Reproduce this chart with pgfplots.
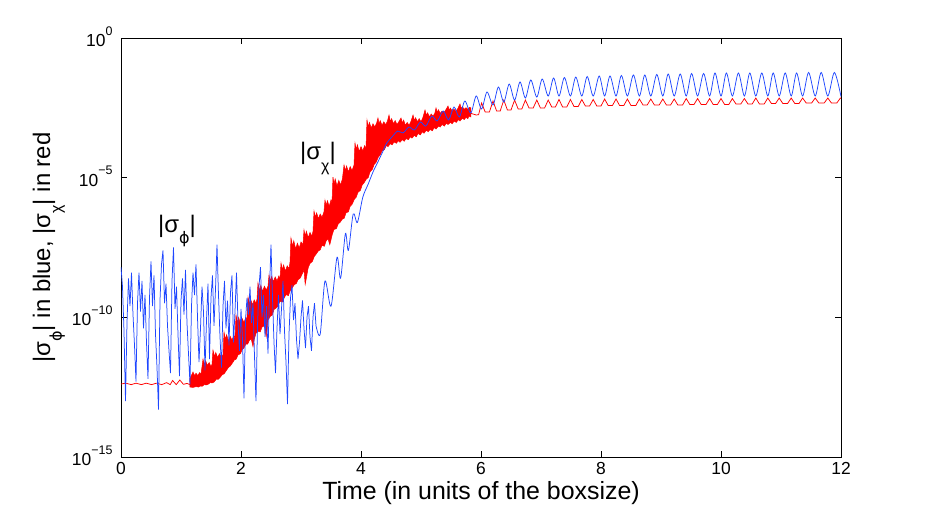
\documentclass[border=0pt]{standalone}
\usepackage{fontspec}
\setmainfont{Liberation Sans}
\newfontfamily\dvs{DejaVu Sans}
\usepackage{pgfplots}
\pgfplotsset{compat=1.18}
\definecolor{mblue}{rgb}{0.12,0.28,1}
\definecolor{mred}{rgb}{1,0,0}
\newcommand{\tp}[1]{10\raisebox{11.5bp}{\fontsize{12.5}{13}\selectfont #1}}
\newcommand{\sg}[1]{|σ\raisebox{-11.5bp}{\fontsize{16}{16}\selectfont #1}|}
\newcommand{\vphi}{{\dvs ϕ}}
\begin{document}
\begin{tikzpicture}
\useasboundingbox (-121bp,-57bp) rectangle (808bp,457bp);
\begin{axis}[
  scale only axis, width=720bp, height=419bp,
  xmin=0, xmax=12, ymin=1e-15, ymax=1, ymode=log,
  xtick={0,2,4,6,8,10,12},
  ytick={1e-15,1e-10,1e-5,1},
  yticklabels={\tp{−15},\tp{−10},\tp{−5},\tp{0}},
  xminorticks=false, yminorticks=false,
  tick align=inside,
  major tick length=6bp,
  every tick/.style={black, line width=0.6bp},
  axis line style={line width=0.9bp},
  /pgf/number format/assume math mode=true,
  xticklabel style={font=\fontsize{17.5}{18}\selectfont, yshift=-2bp},
  yticklabel style={font=\fontsize{17.5}{18}\selectfont, anchor=base east, yshift=-8.5bp, xshift=-5bp},
  xlabel={Time (in units of the boxsize)},
  xlabel style={font=\fontsize{25}{28}\selectfont, at={(axis description cs:0.5,-0.1014)}, anchor=base},
  ylabel={\sg{\vphi} in blue, \sg{χ} in red},
  ylabel style={font=\fontsize{24}{28}\selectfont, at={(axis description cs:-0.0986,0.5)}, anchor=base},
]
% red: flat part
\addplot[mred, line width=0.75bp] coordinates {
(0.00,4.1e-13) (0.08,4.4e-13) (0.17,3.9e-13) (0.25,4.4e-13) (0.34,3.9e-13) (0.42,4.4e-13)
(0.51,3.9e-13) (0.59,4.4e-13) (0.68,3.9e-13) (0.76,4.6e-13) (0.82,3.9e-13) (0.86,5.5e-13)
(0.92,3.9e-13) (0.98,5.7e-13) (1.04,4.0e-13) (1.10,4.3e-13) (1.15,3.9e-13)
};
% red: dense oscillation band (upper envelope, then lower envelope back)
\addplot[mred, fill=mred, line width=0.5bp] coordinates {
(1.15,6.7e-13) (1.18,9e-13) (1.20,1.1e-12) (1.23,8e-13) (1.25,1.0e-12) (1.28,8.2e-13) (1.31,1.05e-12) (1.333,9e-13) (1.367,3.2e-12)
(1.39,2.0e-12) (1.41,2.8e-12) (1.44,1.9e-12) (1.47,2.4e-12) (1.50,1.7e-12) (1.517,2.1e-12) (1.533,6.7e-12)
(1.56,4.0e-12) (1.58,5.5e-12) (1.61,3.6e-12) (1.64,5.0e-12) (1.67,3.8e-12) (1.70,4.6e-12) (1.717,2.97e-11)
(1.74,1.6e-11) (1.76,2.4e-11) (1.79,1.4e-11) (1.82,2.1e-11) (1.85,1.5e-11) (1.88,2.3e-11) (1.90,1.8e-11) (1.917,1.21e-10)
(1.94,6.5e-11) (1.96,1.0e-10) (1.99,6.0e-11) (2.02,9.0e-11) (2.05,6.5e-11) (2.08,1.0e-10) (2.10,8.0e-11) (2.117,5.3e-10)
(2.14,3.0e-10) (2.16,4.5e-10) (2.19,2.8e-10) (2.22,4.2e-10) (2.25,3.2e-10) (2.267,4.5e-10) (2.283,1.69e-9)
(2.31,9.0e-10) (2.33,1.4e-9) (2.36,8.5e-10) (2.39,1.3e-9) (2.42,9.5e-10) (2.45,1.3e-9) (2.467,3.27e-9)
(2.49,2.0e-9) (2.51,2.9e-9) (2.54,1.9e-9) (2.57,2.8e-9) (2.60,2.0e-9) (2.63,3.0e-9) (2.65,2.4e-9) (2.667,8.8e-9)
(2.69,5.0e-9) (2.71,7.5e-9) (2.74,4.5e-9) (2.77,7.0e-9) (2.80,5.5e-9) (2.817,9.5e-9) (2.833,6.9e-8)
(2.86,3.5e-8) (2.88,5.5e-8) (2.91,2.8e-8) (2.94,4.5e-8) (2.97,3.0e-8) (3.00,5.0e-8) (3.033,4.0e-8) (3.05,1.34e-7)
(3.07,8.0e-8) (3.09,1.2e-7) (3.12,7.0e-8) (3.15,1.1e-7) (3.18,8.0e-8) (3.20,1.2e-7) (3.217,6.4e-7)
(3.24,3.8e-7) (3.26,5.5e-7) (3.29,3.4e-7) (3.32,5.0e-7) (3.35,3.8e-7) (3.383,6.0e-7) (3.40,1.58e-6)
(3.42,1.0e-6) (3.44,1.5e-6) (3.47,9.5e-7) (3.50,1.6e-6) (3.517,1.3e-6) (3.533,1.05e-5)
(3.55,6.0e-6) (3.57,9.0e-6) (3.60,5.0e-6) (3.63,8.0e-6) (3.66,5.5e-6) (3.69,9.0e-6) (3.717,2.84e-5)
(3.74,1.8e-5) (3.76,2.6e-5) (3.79,1.6e-5) (3.82,2.5e-5) (3.85,1.8e-5) (3.883,2.8e-5) (3.90,1.74e-4)
(3.92,1.0e-4) (3.94,1.5e-4) (3.97,8.5e-5) (4.00,1.3e-4) (4.03,9.0e-5) (4.06,1.4e-4) (4.083,1.1e-4) (4.10,1.16e-3)
(4.12,6.5e-4) (4.14,9.5e-4) (4.17,6.0e-4) (4.20,8.5e-4) (4.23,6.5e-4) (4.26,9.0e-4) (4.283,1.37e-3)
(4.30,8.5e-4) (4.32,1.1e-3) (4.35,7.5e-4) (4.38,1.0e-3) (4.41,7.8e-4) (4.44,1.05e-3) (4.467,1.75e-3)
(4.49,1.0e-3) (4.51,1.3e-3) (4.54,8.5e-4) (4.57,1.1e-3) (4.60,8.0e-4) (4.63,1.0e-3) (4.667,1.37e-3)
(4.69,9.0e-4) (4.71,1.15e-3) (4.74,7.5e-4) (4.77,9.5e-4) (4.80,7.5e-4) (4.83,1.0e-3) (4.867,1.75e-3)
(4.89,1.1e-3) (4.91,1.4e-3) (4.94,1.0e-3) (4.97,1.3e-3) (5.00,1.0e-3) (5.03,1.4e-3) (5.067,2.64e-3)
(5.09,1.7e-3) (5.11,2.1e-3) (5.14,1.5e-3) (5.17,1.9e-3) (5.20,1.6e-3) (5.23,2.0e-3) (5.25,3.12e-3)
(5.27,2.2e-3) (5.29,2.7e-3) (5.32,2.0e-3) (5.35,2.4e-3) (5.38,2.1e-3) (5.41,2.6e-3) (5.45,3.67e-3)
(5.47,2.6e-3) (5.49,3.1e-3) (5.52,2.4e-3) (5.55,2.8e-3) (5.58,2.4e-3) (5.61,2.9e-3) (5.65,4.34e-3)
(5.67,3.0e-3) (5.69,3.5e-3) (5.72,2.8e-3) (5.75,3.2e-3) (5.78,2.8e-3) (5.81,3.3e-3) (5.833,3.12e-3)
(5.833,1.48e-3) (5.80,1.6e-3) (5.78,1.3e-3) (5.75,1.45e-3) (5.72,1.2e-3) (5.69,1.35e-3) (5.65,1.07e-3) (5.62,1.2e-3)
(5.59,9.5e-4) (5.55,1.05e-3) (5.52,8.5e-4) (5.49,9.5e-4) (5.45,8.0e-4) (5.42,9.0e-4) (5.39,7.0e-4) (5.35,8.0e-4)
(5.32,6.5e-4) (5.29,7.0e-4) (5.25,5.5e-4) (5.22,6.2e-4) (5.19,4.8e-4) (5.15,5.3e-4) (5.12,4.4e-4) (5.09,5.0e-4)
(5.05,3.9e-4) (5.02,4.4e-4) (4.99,3.4e-4) (4.95,3.8e-4) (4.92,2.9e-4) (4.89,3.3e-4) (4.85,2.6e-4) (4.82,2.9e-4)
(4.79,2.3e-4) (4.75,2.5e-4) (4.72,2.0e-4) (4.69,2.3e-4) (4.65,1.85e-4) (4.62,2.1e-4) (4.59,1.7e-4) (4.55,1.9e-4)
(4.52,1.5e-4) (4.49,1.65e-4) (4.45,1.3e-4) (4.42,1.4e-4) (4.39,1.0e-4) (4.35,9.0e-5) (4.32,6.5e-5) (4.29,5.5e-5)
(4.25,3.5e-5) (4.22,3.0e-5) (4.19,2.0e-5) (4.15,1.6e-5) (4.12,1.0e-5) (4.09,9.0e-6) (4.05,6.5e-6) (4.02,5.5e-6)
(3.99,3.5e-6) (3.95,3.0e-6) (3.92,2.0e-6) (3.89,1.7e-6) (3.85,1.1e-6) (3.82,9.5e-7) (3.79,6.0e-7) (3.75,5.5e-7)
(3.72,3.5e-7) (3.69,3.3e-7) (3.65,2.5e-7) (3.62,2.2e-7) (3.59,1.5e-7) (3.55,1.4e-7) (3.52,9.0e-8) (3.48,4.0e-8)
(3.45,6.5e-8) (3.42,5.5e-8) (3.39,3.5e-8) (3.35,3.8e-8) (3.32,2.6e-8) (3.29,2.4e-8) (3.25,1.8e-8) (3.22,1.5e-8)
(3.19,1.0e-8) (3.15,8.5e-9) (3.12,6.0e-9) (3.07,1.5e-9) (3.05,5.0e-9) (3.02,3.6e-9) (2.99,2.6e-9) (2.95,2.2e-9)
(2.92,1.6e-9) (2.89,1.5e-9) (2.85,1.1e-9) (2.82,9.0e-10) (2.79,6.0e-10) (2.75,6.5e-10) (2.72,5.0e-10) (2.69,3.5e-10)
(2.65,3.8e-10) (2.62,2.6e-10) (2.59,2.2e-10) (2.55,1.9e-10) (2.52,1.2e-10) (2.49,1.1e-10) (2.45,8.0e-11) (2.42,2.0e-11)
(2.39,5.0e-11) (2.35,4.5e-11) (2.32,3.0e-11) (2.29,3.2e-11) (2.25,2.7e-11) (2.22,1.6e-11) (2.20,9.0e-12) (2.17,1.7e-11)
(2.14,1.5e-11) (2.11,1.1e-11) (2.08,1.1e-11) (2.05,8.0e-12) (2.02,7.0e-12) (1.99,5.0e-12) (1.95,4.5e-12) (1.92,3.2e-12)
(1.89,3.0e-12) (1.85,2.2e-12) (1.82,1.8e-12) (1.79,1.6e-12) (1.75,1.2e-12) (1.72,9.5e-13) (1.69,9.0e-13) (1.65,7.0e-13)
(1.62,6.0e-13) (1.59,6.2e-13) (1.55,4.8e-13) (1.52,4.5e-13) (1.49,4.6e-13) (1.45,4.0e-13) (1.42,3.8e-13) (1.39,3.9e-13)
(1.35,3.4e-13) (1.32,3.5e-13) (1.29,3.2e-13) (1.25,3.3e-13) (1.20,3.1e-13) (1.15,3.2e-13)
} -- cycle;
% red: late oscillation
\addplot[mred, line width=0.75bp] coordinates {
(5.833,2.0e-3) (5.92,1.75e-3) (5.96,1.8e-3) (6.01,4.71e-3) (6.07,2.24e-3) (6.14,2.24e-3)
(6.20,5.55e-3) (6.26,2.44e-3) (6.32,2.44e-3) (6.38,6.0e-3) (6.44,2.64e-3) (6.50,2.64e-3)
(6.56,6.0e-3) (6.62,2.87e-3) (6.68,2.87e-3) (6.74,6.0e-3) (6.80,3.12e-3) (6.87,3.12e-3)
(6.93,6.0e-3) (6.99,3.12e-3) (7.06,3.12e-3) (7.12,6.0e-3) (7.18,3.38e-3) (7.24,3.38e-3)
(7.30,6.29e-3) (7.36,3.38e-3) (7.43,3.38e-3) (7.49,6.29e-3) (7.55,3.53e-3) (7.62,3.53e-3)
(7.68,6.29e-3) (7.74,3.67e-3) (7.81,3.67e-3) (7.87,6.29e-3) (7.93,3.67e-3) (8.00,3.67e-3)
(8.06,6.54e-3) (8.12,3.83e-3) (8.19,3.83e-3) (8.25,6.54e-3) (8.31,3.83e-3) (8.38,3.83e-3)
(8.44,6.54e-3) (8.50,3.83e-3) (8.58,3.83e-3) (8.64,6.54e-3) (8.70,4.0e-3) (8.77,4.0e-3)
(8.83,6.54e-3) (8.89,4.0e-3) (8.97,4.0e-3) (9.03,6.54e-3) (9.09,4.0e-3) (9.16,4.0e-3)
(9.22,6.54e-3) (9.28,4.0e-3) (9.36,4.0e-3) (9.42,6.8e-3) (9.48,4.17e-3) (9.55,4.17e-3)
(9.61,6.8e-3) (9.67,4.17e-3) (9.75,4.17e-3) (9.81,6.8e-3) (9.87,4.17e-3) (9.94,4.17e-3)
(10.00,6.8e-3) (10.06,4.17e-3) (10.13,4.17e-3) (10.19,6.8e-3) (10.25,4.34e-3) (10.33,4.34e-3)
(10.39,6.8e-3) (10.45,4.34e-3) (10.52,4.34e-3) (10.58,7.1e-3) (10.64,4.34e-3) (10.72,4.34e-3)
(10.78,7.1e-3) (10.84,4.53e-3) (10.91,4.53e-3) (10.97,7.1e-3) (11.03,4.53e-3) (11.11,4.53e-3)
(11.17,7.1e-3) (11.23,4.53e-3) (11.30,4.53e-3) (11.36,7.1e-3) (11.42,4.71e-3) (11.51,4.71e-3)
(11.57,7.1e-3) (11.63,4.71e-3) (11.72,4.71e-3) (11.78,7.1e-3) (11.84,4.71e-3) (11.93,4.71e-3)
(11.99,7.1e-3) (12.00,7.0e-3)
};
% blue: noisy early part
\addplot[mblue, line width=0.75bp] coordinates {
(0.000,6.3e-9) (0.025,1.26e-9) (0.050,3.2e-11) (0.075,1e-13) (0.100,6.3e-11) (0.125,2.5e-9)
(0.150,2.5e-10) (0.175,4.0e-9) (0.200,1.26e-10) (0.225,1e-11) (0.250,5.0e-13) (0.275,3.2e-10)
(0.300,4.0e-9) (0.325,1.6e-10) (0.350,2.0e-9) (0.375,4.0e-11) (0.400,6.3e-10) (0.425,1.26e-11)
(0.450,6.3e-13) (0.475,5.0e-10) (0.500,1e-8) (0.525,2.5e-10) (0.550,3.2e-9) (0.575,2.5e-11)
(0.600,1.6e-12) (0.625,5.0e-14) (0.650,4.0e-10) (0.675,7.9e-9) (0.700,2.5e-8) (0.725,3.2e-10)
(0.750,1.6e-9) (0.775,5.0e-11) (0.800,6.3e-12) (0.825,1e-12) (0.850,2.0e-9) (0.875,3.2e-8)
(0.900,2.0e-10) (0.925,1.26e-9) (0.950,2.5e-11) (0.975,7.9e-13) (1.000,4.0e-10) (1.025,2.5e-9)
(1.050,1.26e-10) (1.075,5.0e-9) (1.100,6.3e-11) (1.125,5.0e-12) (1.150,4.0e-13) (1.175,2.5e-10)
(1.200,4.0e-9) (1.225,6.3e-10) (1.250,7.9e-9) (1.275,1e-10) (1.300,2.5e-12) (1.325,4.0e-11)
(1.350,1.26e-9) (1.375,1.6e-10) (1.400,1.26e-12) (1.425,7.9e-11) (1.450,1.6e-9) (1.475,3.2e-12)
(1.500,5.0e-10) (1.525,3.2e-9) (1.550,5.0e-11) (1.575,1e-9) (1.600,4.0e-8) (1.625,6.3e-10)
(1.650,2.0e-11) (1.675,1.6e-12) (1.700,2.5e-10) (1.725,2.0e-9) (1.750,4.0e-11) (1.775,4.0e-10)
(1.800,1e-11) (1.825,7.9e-10) (1.850,3.2e-9) (1.875,1.26e-11) (1.900,1.6e-10) (1.925,4.0e-9)
(1.950,6.3e-11) (1.975,6.3e-12) (2.000,2.0e-10) (2.025,1.6e-11) (2.050,1.26e-13) (2.075,7.9e-11)
(2.100,5.0e-10) (2.125,1.26e-10) (2.150,1.26e-9) (2.175,6.3e-11) (2.200,3.2e-10) (2.225,4.0e-12)
(2.250,1e-13) (2.275,5.0e-11) (2.300,1.26e-9) (2.325,6.3e-9) (2.350,1e-10) (2.375,6.3e-10)
(2.400,2.0e-11) (2.425,2.5e-10) (2.450,5.0e-12) (2.475,1e-9) (2.500,4.0e-8) (2.525,5.0e-10)
(2.550,1.26e-11) (2.575,1e-12) (2.600,4.0e-11) (2.625,6.3e-10) (2.650,2.5e-11) (2.675,2.0e-10)
(2.700,2.0e-9) (2.725,3.2e-11) (2.750,2.5e-12) (2.775,7.9e-14) (2.800,2.5e-11) (2.825,5.0e-10)
(2.850,1.41e-9) (2.875,7.9e-11) (2.900,3.2e-10) (2.925,1.6e-11) (2.950,3.2e-12) (2.975,1.26e-11)
(3.000,1e-10) (3.025,4.0e-10) (3.050,4.0e-11) (3.075,7.9e-12) (3.100,1e-10) (3.125,2.5e-10)
(3.150,2.0e-11) (3.175,6.3e-12) (3.200,1e-10) (3.225,3.2e-10) (3.250,5.0e-11)
};
% blue: growth and late oscillation
\addplot[mblue, line width=0.75bp, smooth] coordinates {
(3.25,5.0e-11) (3.32,2.5e-11) (3.40,2.0e-9) (3.50,2.5e-10) (3.60,1.41e-8) (3.66,2.5e-9)
(3.74,1.0e-7) (3.79,2.5e-8) (3.87,5.0e-7) (3.94,2.5e-7) (4.03,2.0e-6) (4.12,5.9e-6)
(4.20,1.6e-5) (4.28,3.6e-5) (4.36,8.3e-5) (4.43,1.74e-4) (4.53,3.1e-4) (4.61,4.7e-4)
(4.70,4.0e-4) (4.80,6.5e-4) (4.89,5.1e-4) (4.99,9.8e-4) (5.08,7.0e-4) (5.18,1.61e-3)
(5.27,1.07e-3) (5.37,2.44e-3) (5.46,1.16e-3) (5.55,3.38e-3) (5.64,1.48e-3) (5.73,5.55e-3)
(5.83,2.06e-3) (5.92,8.4e-3) (6.01,2.87e-3) (6.10,1.17e-2) (6.20,4.0e-3) (6.29,1.76e-2)
(6.38,5.1e-3) (6.47,2.25e-2) (6.56,6.0e-3) (6.65,2.66e-2) (6.74,7.1e-3) (6.83,3.14e-2)
(6.93,7.7e-3) (7.02,3.40e-2) (7.12,8.4e-3) (7.21,3.70e-2) (7.30,8.4e-3) (7.39,3.85e-2)
(7.49,8.4e-3) (7.58,4.0e-2) (7.68,8.4e-3) (7.77,4.17e-2) (7.87,8.4e-3) (7.97,4.36e-2)
(8.06,8.4e-3) (8.15,4.36e-2) (8.25,8.4e-3) (8.34,4.55e-2) (8.44,8.4e-3) (8.54,4.74e-2)
(8.64,8.4e-3) (8.73,4.74e-2) (8.83,8.4e-3) (8.93,4.95e-2) (9.03,8.4e-3) (9.12,5.15e-2)
(9.22,8.4e-3) (9.32,5.15e-2) (9.42,8.4e-3) (9.51,5.37e-2) (9.61,8.4e-3) (9.71,5.37e-2)
(9.81,8.4e-3) (9.90,5.6e-2) (10.00,8.4e-3) (10.09,5.6e-2) (10.19,8.4e-3) (10.29,5.6e-2)
(10.39,8.4e-3) (10.48,5.6e-2) (10.58,8.4e-3) (10.68,5.6e-2) (10.78,8.4e-3) (10.87,5.6e-2)
(10.97,8.4e-3) (11.07,5.6e-2) (11.17,8.4e-3) (11.26,5.6e-2) (11.36,8.4e-3) (11.46,5.85e-2)
(11.57,8.4e-3) (11.67,5.85e-2) (11.78,8.4e-3) (11.89,5.85e-2) (12.00,8.0e-3)
};
\node[anchor=base west, inner sep=0pt, font=\fontsize{24}{28}\selectfont] at (axis cs:0.617,1.13e-7) {\sg{\vphi}};
\node[anchor=base west, inner sep=0pt, font=\fontsize{24}{28}\selectfont] at (axis cs:2.983,4.3e-5) {\sg{χ}};
\end{axis}
\end{tikzpicture}
\end{document}
